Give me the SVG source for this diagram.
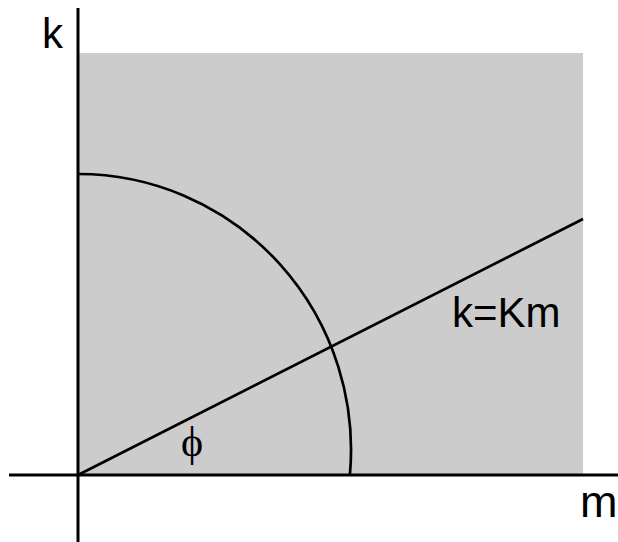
<svg xmlns="http://www.w3.org/2000/svg" width="618" height="542" viewBox="0 0 618 542">
<style>
.axis{stroke:#000;stroke-width:3;fill:none}
.curve{stroke:#000;stroke-width:2.7;fill:none}
.lbl{font-family:"Liberation Sans",Arial,sans-serif;font-size:42px;fill:#000}
.sym{font-family:"Liberation Serif","Times New Roman",serif;font-size:42px;fill:#000}
</style>
<rect id="region" x="78" y="53" width="505" height="422" fill="#cccccc"/>
<g id="connectors">
<path class="curve" d="M78,174 A273,276 0 0 1 349.9,475"/>
<line class="curve" x1="78" y1="475" x2="583" y2="219"/>
<line class="axis" x1="78" y1="8" x2="78" y2="542"/>
<line class="axis" x1="9" y1="475" x2="618" y2="475"/>
</g>
<g id="labels">
<text class="lbl" x="42" y="48">k</text>
<text class="lbl" x="452" y="327">k=Km</text>
<text class="lbl" x="580" y="517" style="font-size:45px">m</text>
<text class="sym" x="181" y="456">ϕ</text>
</g>
</svg>
